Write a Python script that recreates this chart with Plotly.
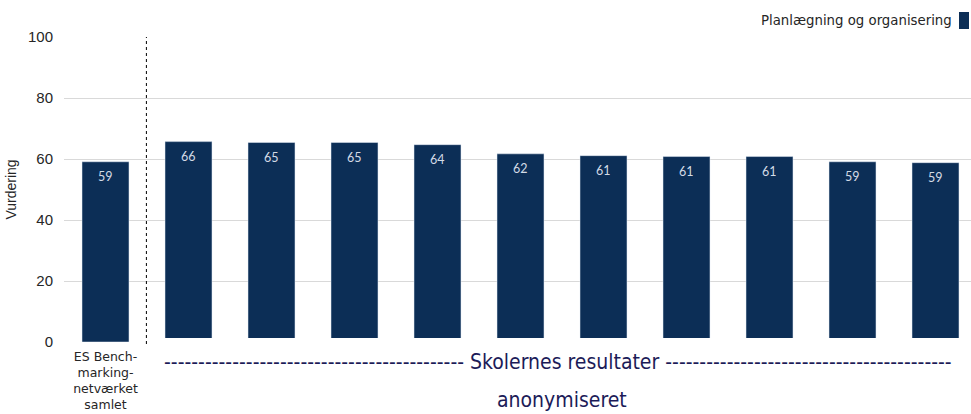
import plotly.graph_objects as go

# ---- data ----
benchmark_label = ["ES Bench-<br>marking-<br>netværket<br>samlet"]
benchmark_value = [59.1]
school_ids = list(range(10))
school_values = [65.7, 65.4, 65.4, 64.7, 61.7, 61.1, 60.8, 60.8, 59.1, 58.8]
benchmark_text = ["59"]
school_text = ["66", "65", "65", "64", "62", "61", "61", "61", "59", "59"]
series_name = "Planlægning og organisering"
y_ticks = [0, 20, 40, 60, 80, 100]

BAR = "#0c2e56"
GRID = "#d9d9d9"
W, H = 971, 414
ML, MR, MT, MB = 64, 0, 37, 72
plot_w = W - ML - MR
plot_h = H - MT - MB
cat_px = 83
d1 = cat_px / plot_w
off = 4 / plot_h  # school bars start slightly above baseline
r0 = 100 * off
x2_span = (plot_w - cat_px) / cat_px

fig = go.Figure()
fig.add_trace(go.Bar(x=[0], y=benchmark_value, marker_color=BAR, width=0.566,
                     xaxis="x", yaxis="y", name=series_name, showlegend=False,
                     hoverinfo="skip"))
fig.add_trace(go.Bar(x=school_ids, y=school_values, marker_color=BAR, width=0.566,
                     xaxis="x2", yaxis="y2", name=series_name, showlegend=False,
                     hoverinfo="skip"))

lab_font = dict(family="Lato, DejaVu Sans", size=12.5, color="#d3dbe6")
annotations = []
for xv, yv, t in zip([0], benchmark_value, benchmark_text):
    annotations.append(dict(x=xv, y=yv, xref="x", yref="y", text=t, showarrow=False,
                            yshift=-15, font=lab_font))
for xv, yv, t in zip(school_ids, school_values, school_text):
    annotations.append(dict(x=xv, y=yv, xref="x2", yref="y2", text=t, showarrow=False,
                            yshift=-15, font=lab_font))

dash_l = "-" * 44
dash_r = "-" * 42
narrow = "Liberation Sans Narrow, DejaVu Sans Condensed, Arial Narrow, sans-serif"
annotations.append(dict(x=(558 - ML) / plot_w, y=362, xref="paper", yref="paper",
                        text=f"{dash_l} Skolernes resultater {dash_r}", showarrow=False,
                        yanchor="middle", xanchor="center",
                        font=dict(family=narrow, size=21, color="#1c1b58")))
annotations.append(dict(x=(562 - ML) / plot_w, y=400, xref="paper", yref="paper",
                        text="anonymiseret", showarrow=False, yanchor="middle",
                        xanchor="center",
                        font=dict(family=narrow, size=21, color="#1c1b58")))
# legend (symbol to the right of the text)
annotations.append(dict(x=(954 - ML) / plot_w, y=20, xref="paper", yref="paper",
                        text=series_name, showarrow=False, xanchor="right",
                        yanchor="middle",
                        font=dict(family="DejaVu Sans", size=13.3, color="#262626")))

# convert pixel y to paper for annotations
for a in annotations:
    if a["yref"] == "paper":
        a["y"] = (H - MB - a["y"]) / plot_h

shapes = [
    dict(type="line", xref="paper", yref="paper", x0=d1 - 0.6 / plot_w, x1=d1 - 0.6 / plot_w,
         y0=-2 / plot_h, y1=1, line=dict(color="#000000", width=1, dash="dot")),
    dict(type="rect", xref="paper", yref="paper",
         x0=(959 - ML) / plot_w, x1=(969 - ML) / plot_w,
         y0=(H - MB - 29) / plot_h, y1=(H - MB - 12) / plot_h,
         fillcolor=BAR, line=dict(width=0)),
]

fig.update_layout(
    width=W, height=H,
    margin=dict(l=ML, r=MR, t=MT, b=MB, pad=0),
    plot_bgcolor="white", paper_bgcolor="white",
    showlegend=False,
    annotations=annotations, shapes=shapes,
    xaxis=dict(domain=[0, d1], range=[-0.5, 0.5], tickmode="array", tickvals=[0],
               ticktext=benchmark_label, showgrid=False, zeroline=False, showline=False,
               ticks="", ticklabelstandoff=5,
               tickfont=dict(family="DejaVu Sans", size=12.5, color="#262626"),
               fixedrange=True),
    yaxis=dict(domain=[0, 1], range=[0, 100], tickmode="array", tickvals=y_ticks,
               showgrid=True, gridcolor=GRID, gridwidth=1, zeroline=False, showline=False,
               ticks="", ticklabelstandoff=10,
               tickfont=dict(family="Liberation Sans, Arial", size=15, color="#262626"),
               title=dict(text="Vurdering", standoff=8,
                          font=dict(family="Liberation Sans, Arial", size=14, color="#262626"))),
    xaxis2=dict(domain=[d1, 1], range=[-0.5, -0.5 + x2_span], anchor="y2",
                showticklabels=False, showgrid=False, zeroline=False, showline=False,
                ticks=""),
    yaxis2=dict(domain=[off, 1], range=[r0, 100], anchor="x2", tickmode="array",
                tickvals=y_ticks[1:], showticklabels=False, showgrid=True,
                gridcolor=GRID, gridwidth=1, zeroline=False, showline=False, ticks=""),
)

fig.write_html("out.html", config={"displayModeBar": False},
               post_script="document.body.style.margin='0';")
